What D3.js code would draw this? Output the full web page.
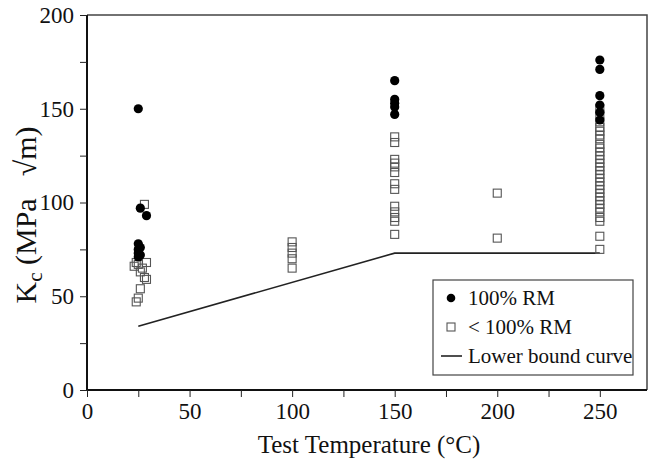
<!DOCTYPE html>
<html><head><meta charset="utf-8">
<script src="https://cdn.jsdelivr.net/npm/d3@7"></script>
</head>
<body style="margin:0"><svg id="chart" width="649" height="464"></svg>
<script>
// ---- data ----
const fullRM = [ // 100% RM  [temperature, Kc]
  [25,150],[26,97],[29,93],[25,78],[26,76],[25,75],[25,73],[26,72],[25,71],
  [150,165],[150,155],[150,153],[150,151],[150,147],
  [250,176],[250,171],[250,157],[250,152],[250,148],[250,144]
];
const partRM = [ // < 100% RM
  [28,99],[24,68],[29,68],[25,67],[27,65],[23,66],[26,63],[28,60],[29,59],[26,54],[25,49],[24,47],
  [100,79],[100,76],[100,73],[100,70],[100,65],
  [150,135],[150,132],[150,123],[150,121],[150,119],[150,116],[150,110],[150,107],[150,98],[150,95],[150,92],[150,90],[150,83],
  [200,105],[200,81],
  [250,150],[250,147],[250,143],[250,140],[250,138],[250,136],[250,134],[250,131],[250,129],[250,127],[250,125],[250,123],
  [250,121],[250,119],[250,117],[250,115],[250,113],[250,111],[250,109],[250,107],[250,105],[250,103],[250,101],[250,99],
  [250,97],[250,95],[250,92],[250,90],[250,82],[250,75]
];
const lowerBound = [[25,34],[150,73],[250,73]];
const xMajor = [0,50,100,150,200,250];
const xMinor = [25,75,125,175,225];
const yMajor = [0,50,100,150,200];
const yMinor = [25,75,125,175];
const legendLabels = ["100% RM","< 100% RM","Lower bound curve"];

// ---- chart ----
const FONT = "'Liberation Serif'";
const svg = d3.select("#chart");
const x = d3.scaleLinear().domain([0,273]).range([87,647]);
const y = d3.scaleLinear().domain([0,200]).range([390,15]);

// frame (top & right)
svg.append("path")
  .attr("d", `M${x(0)},${y(200)}H${x(273)}V${y(0)}`)
  .attr("fill","none").attr("stroke","#444").attr("stroke-width",1.5);

// axes
const xAxis = svg.append("g").attr("transform",`translate(0,${y(0)})`)
  .call(d3.axisBottom(x).tickValues(xMajor).tickSize(7).tickPadding(6).tickFormat(d3.format("d")));
svg.append("g").attr("transform",`translate(0,${y(0)})`)
  .call(d3.axisBottom(x).tickValues(xMinor).tickSize(7).tickFormat(""))
  .select(".domain").remove();
const yAxis = svg.append("g").attr("transform",`translate(${x(0)},0)`)
  .call(d3.axisLeft(y).tickValues(yMajor).tickSize(7).tickPadding(6).tickFormat(d3.format("d")));
svg.append("g").attr("transform",`translate(${x(0)},0)`)
  .call(d3.axisLeft(y).tickValues(yMinor).tickSize(7).tickFormat(""))
  .select(".domain").remove();
svg.selectAll("g").attr("font-family",null).attr("font-size",null);
svg.selectAll(".domain").attr("stroke","#111").attr("stroke-width",2);
svg.selectAll(".tick line").attr("stroke","#222").attr("stroke-width",1);
svg.selectAll(".tick text").attr("font-size",23).style("font-family",FONT).attr("fill","#111");
xAxis.select(".domain").attr("d",`M${x(0)},0H${x(273)}`);
yAxis.select(".domain").attr("d",`M0,${y(0)}V${y(200)}`);

// lower bound line
svg.append("path").datum(lowerBound)
  .attr("d", d3.line().x(d=>x(d[0])).y(d=>y(d[1])))
  .attr("fill","none").attr("stroke","#222").attr("stroke-width",1.6);

// squares
const s = 8;
svg.append("g").selectAll("rect").data(partRM).join("rect")
  .attr("x",d=>x(d[0])-s/2).attr("y",d=>y(d[1])-s/2)
  .attr("width",s).attr("height",s)
  .attr("fill","none").attr("stroke","#555").attr("stroke-width",1.1);

// circles
svg.append("g").selectAll("circle").data(fullRM).join("circle")
  .attr("cx",d=>x(d[0])).attr("cy",d=>y(d[1])).attr("r",4.6)
  .attr("fill","#000");

// axis titles
svg.append("text").attr("x",369).attr("y",453).attr("text-anchor","middle")
  .style("font-family",FONT).attr("fill","#111")
  .attr("font-size",25).text("Test Temperature (°C)");
const yt = svg.append("text").attr("transform","translate(36,215) rotate(-90)")
  .style("font-family",FONT).attr("fill","#111")
  .attr("text-anchor","middle").attr("font-size",30);
yt.append("tspan").text("K");
yt.append("tspan").attr("font-size",21).attr("dy",6).text("c");
yt.append("tspan").attr("dy",-6).text(" (MPa");
yt.append("tspan").attr("dx",22).text("√m)");

// legend
const lg = svg.append("g");
lg.append("rect").attr("x",433).attr("y",280).attr("width",200).attr("height",95)
  .attr("fill","#fff").attr("stroke","#444").attr("stroke-width",1.2);
const rows = [298,327,356];
lg.append("circle").attr("cx",451).attr("cy",rows[0]).attr("r",4.3).attr("fill","#000");
lg.append("rect").attr("x",447).attr("y",rows[1]-4).attr("width",8).attr("height",8)
  .attr("fill","none").attr("stroke","#555").attr("stroke-width",1.1);
lg.append("line").attr("x1",441).attr("x2",462).attr("y1",rows[2]).attr("y2",rows[2])
  .attr("stroke","#222").attr("stroke-width",1.6);
lg.selectAll("text.lab").data(legendLabels).join("text").attr("class","lab")
  .style("font-family",FONT).attr("fill","#111")
  .attr("x",468).attr("y",(d,i)=>rows[i]+7).attr("font-size",21).text(d=>d);
</script></body></html>
